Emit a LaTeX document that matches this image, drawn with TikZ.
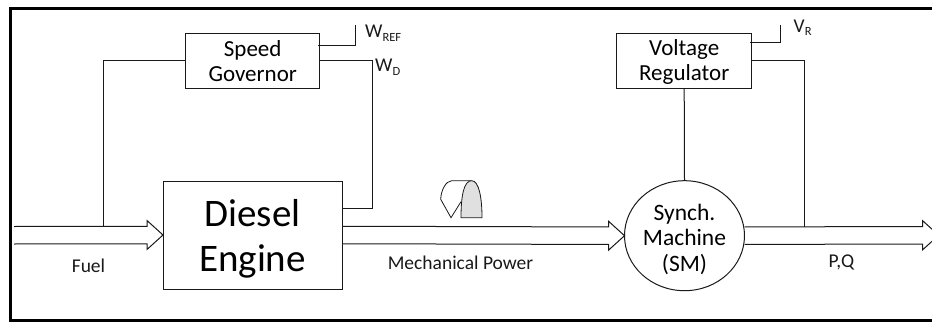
\documentclass[tikz,border=0pt]{standalone}
\usepackage{fontspec}
\setmainfont{Carlito}
\usetikzlibrary{calc,shapes.geometric}
\tikzset{
  wire/.style={line width=1pt, black!90},
  block/.style={draw, line width=1pt, black!90, text=black, align=center, inner sep=0pt, outer sep=0pt},
  smalltext/.style={inner sep=0pt, text=black!90, font=\fontsize{19.5}{22}\selectfont},
  controltext/.style={block, minimum width=134.5pt, minimum height=54.5pt, font=\fontsize{23}{25}\selectfont},
}
\newcommand{\flowarrow}[2]{
  \draw[wire] ($(#1)+(0,-8.75)$) -- ($(#2)+(-16,-8.75)$) -- ($(#2)+(-16,-14.5)$) -- (#2)
    -- ($(#2)+(-16,14.5)$) -- ($(#2)+(-16,8.75)$) -- ($(#1)+(0,8.75)$);
}
\newcommand{\subtext}[2]{#1{\fontsize{12.5}{12}\selectfont\raisebox{-3.5pt}{#2}}}
\begin{document}
\begin{tikzpicture}[x=1pt,y=-1pt]
  \useasboundingbox (0,0) rectangle (932,324);
  % Outer frame, open on the right
  \draw[line width=3pt] (932,8.5) -- (10.5,8.5) -- (10.5,320.5) -- (932,320.5);

  % Blocks
  \node[controltext] (governor) at (252.7,60.75) {\rule{0pt}{17pt}Speed\\Governor};
  \node[controltext] (regulator) at (684.2,60.75) {\rule{0pt}{18pt}Voltage\\Regulator};
  \node[block, minimum width=179pt, minimum height=108pt, font=\fontsize{39}{45}\selectfont] (engine) at (252.5,235) {\rule{0pt}{34pt}Diesel\\Engine};
  \node[block, ellipse, minimum width=120pt, minimum height=110pt, font=\fontsize{23.5}{25.5}\selectfont] (machine) at (684.5,235.7) {\rule{0pt}{23pt}Synch.\\Machine\\(SM)};

  % Free ends and turning points
  \coordinate (fuelstart) at (14,235.25);
  \coordinate (gridend) at (938.7,235.25);
  \coordinate (fueltap) at (103.7,226.5);
  \coordinate (gridtap) at (804.3,226.5);
  \coordinate (speedturn) at (372,208);
  \coordinate (wrefend) at (355.3,25);
  \coordinate (vrefend) at (780,25);
  \coordinate (wrefstart) at (318,45.7);
  \coordinate (vrefstart) at (750,42.3);

  % Power flow
  \flowarrow{fuelstart}{engine.west}
  \flowarrow{engine.east}{machine.west}
  \flowarrow{machine.east}{gridend}

  % Control wires
  \draw[wire] (governor.west) -| (fueltap);
  \draw[wire] (governor.east) -| (speedturn) -- (speedturn -| engine.east);
  \draw[wire] (wrefstart) -| (wrefend);
  \draw[wire] (vrefstart) -| (vrefend);
  \draw[wire] (regulator.east) -| (gridtap);
  \draw[wire] (regulator.south) -- (machine.north);

  % Labels
  \node[smalltext] (fuel) at (88.5,266) {Fuel};
  \node[smalltext] (mechpower) at (460.5,262.5) {Mechanical Power};
  \node[smalltext] (pq) at (841.5,262.5) {P,Q};
  \node[smalltext, anchor=west] (wref) at (365,33) {\subtext{W}{REF}};
  \node[smalltext, anchor=west] (wd) at (375,67) {\subtext{W}{D}};
  \node[smalltext, anchor=west] (vr) at (793.5,27.5) {\subtext{V}{R}};

  % Small cam symbol above the shaft
  \draw[wire, line width=0.8pt] (461,201.7) -- (451,217.7) -- (440.7,199.3)
    .. controls (441,190) and (446,181) .. (451.7,180.7) -- (471.7,180.7);
  \draw[wire, fill=black!12, line width=0.8pt] (461,217.7)
    .. controls (461,195) and (464,180.7) .. (471.7,180.7)
    .. controls (479,180.7) and (482,198) .. (482,217.7) -- cycle;
\end{tikzpicture}
\end{document}
